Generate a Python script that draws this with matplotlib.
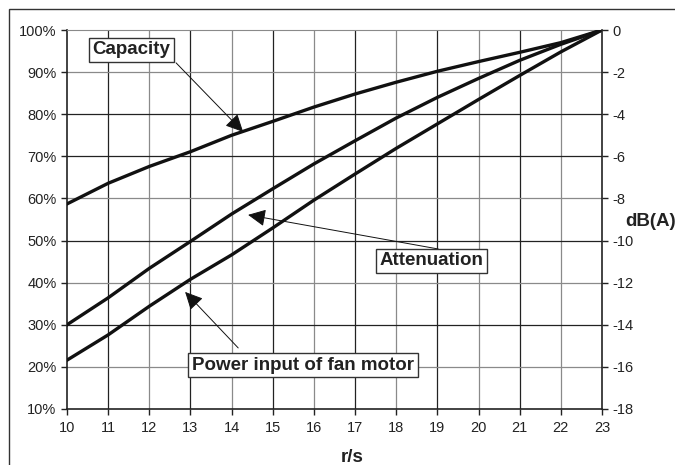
import matplotlib as mpl
import matplotlib.pyplot as plt
import numpy as np

mpl.rcParams['font.family'] = ['Liberation Sans', 'DejaVu Sans']
mpl.rcParams['axes.unicode_minus'] = False

speed = [10, 11, 12, 13, 14, 15, 16, 17, 18, 19, 20, 21, 22, 23]
capacity = [58.7, 63.6, 67.6, 71.1, 75.0, 78.3, 81.7, 84.8, 87.6, 90.2, 92.5, 94.7, 97.0, 100]
attenuation = [30.0, 36.4, 43.4, 49.8, 56.3, 62.3, 68.2, 73.7, 79.1, 84.0, 88.5, 92.8, 96.6, 100]
power = [21.6, 27.6, 34.4, 40.8, 46.6, 53.0, 59.6, 65.8, 71.9, 77.7, 83.5, 89.2, 94.8, 100]

pct_ticks = [10, 20, 30, 40, 50, 60, 70, 80, 90, 100]
pct_dark = [30, 50, 70, 80]
db_ticks = [0, -2, -4, -6, -8, -10, -12, -14, -16, -18]

labels = ["Capacity", "Attenuation", "Power input of fan motor"]
label_xy = [(11.56, 95.3), (18.85, 45.2), (15.74, 20.4)]
arrow_tail = [(12.65, 92.2), (19.02, 48.0), (14.16, 24.5)]
arrow_tip = [(14.28, 75.8), (14.4, 56.1), (12.87, 37.8)]

fig = plt.figure(figsize=(6.75, 4.65), dpi=100)
ax = fig.add_axes([67 / 675, 1 - 409 / 465, 535 / 675, 379 / 465])

# outer frame, cut off at right and bottom
frame = mpl.patches.Rectangle((9 / 675, -0.1), 1.2, 1 - 9 / 465 + 0.1, transform=fig.transFigure,
                              fill=False, edgecolor="#333333", lw=1.0)
fig.patches.append(frame)

# grid
for x in speed[1:-1]:
    c = "#222222" if x % 2 == 1 else "#8a8a8a"
    ax.axvline(x, color=c, lw=0.9, zorder=1)
for y in pct_ticks[1:-1]:
    c = "#222222" if y in pct_dark else "#8a8a8a"
    ax.axhline(y, color=c, lw=0.9, zorder=1)

ax.plot(speed, capacity, color="#111111", lw=2.4, zorder=3)
ax.plot(speed, attenuation, color="#111111", lw=2.4, zorder=3)
ax.plot(speed, power, color="#111111", lw=2.4, zorder=3)

ax.set_xlim(10, 23)
ax.set_ylim(10, 100)
ax.set_xticks(speed)
ax.set_yticks(pct_ticks)
ax.set_yticklabels(["%d%%" % v for v in pct_ticks])
ax.tick_params(axis="both", direction="out", length=4, width=1, labelsize=10.5,
               labelcolor="#222222", color="#222222")
ax.tick_params(axis="x", pad=5)

for s in ["left", "bottom"]:
    ax.spines[s].set_color("#222222")
    ax.spines[s].set_linewidth(1.2)
ax.spines["top"].set_color("#8a8a8a")
ax.spines["right"].set_visible(False)

ax2 = ax.twinx()
ax2.set_ylim(-18, 0)
ax2.set_yticks(db_ticks)
ax2.set_yticklabels(["%d" % v for v in db_ticks])
ax2.tick_params(axis="y", direction="out", length=4, width=1, labelsize=10.5,
                labelcolor="#222222", color="#222222")
ax2.spines["right"].set_color("#222222")
ax2.spines["right"].set_linewidth(1.2)
for s in ["left", "top", "bottom"]:
    ax2.spines[s].set_visible(False)

fig.text(651 / 675, 1 - 221 / 465, "dB(A)", fontsize=13.5, fontweight="bold",
         ha="center", va="center", color="#222222")
fig.text(352 / 675, 1 - 457 / 465, "r/s", fontsize=13.5, fontweight="bold",
         ha="center", va="center", color="#222222")

for i in range(len(labels)):
    ax.annotate("", xy=arrow_tip[i], xytext=arrow_tail[i],
                arrowprops=dict(arrowstyle="-|>,head_length=0.45,head_width=0.22",
                                color="#111111", lw=0.7,
                                mutation_scale=24, shrinkA=0, shrinkB=0), zorder=4)
    ax.text(label_xy[i][0], label_xy[i][1], labels[i], fontsize=13.5, fontweight="bold",
            ha="center", va="center", color="#222222", zorder=5,
            bbox=dict(boxstyle="square,pad=0.2", fc="white", ec="#333333", lw=1.0))

fig.savefig("out.png", dpi=100)
